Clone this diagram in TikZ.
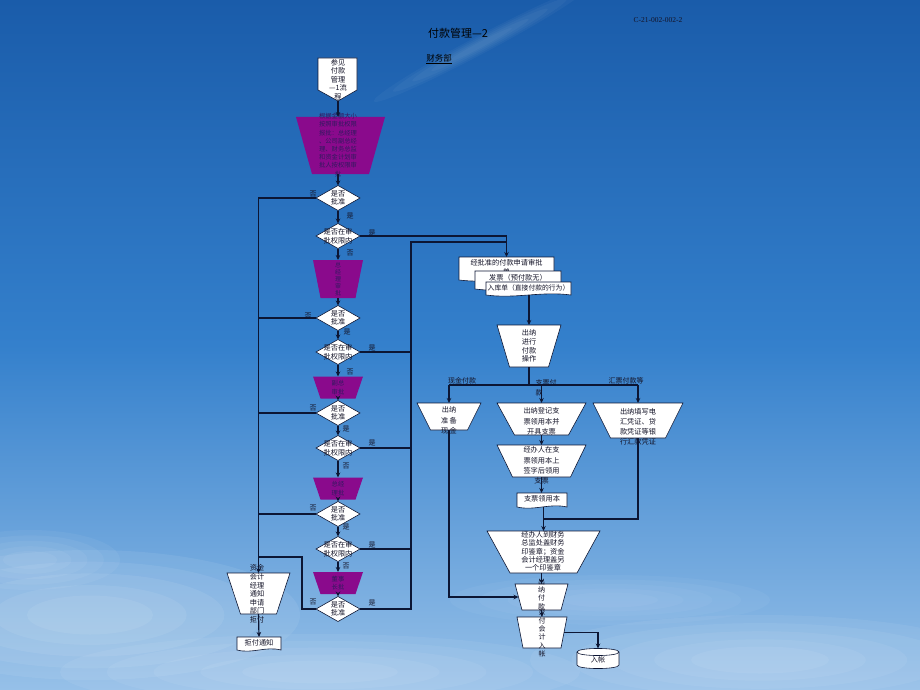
\documentclass[tikz,border=0pt]{standalone}
\usepackage{fontspec}
\setmainfont{Liberation Serif}
\newfontfamily\cjk{Noto Sans CJK SC}
\usetikzlibrary{shapes.geometric,arrows.meta,calc}
\definecolor{linec}{RGB}{12,22,52}
\definecolor{purp}{RGB}{138,10,140}
\definecolor{ptxt}{RGB}{50,25,95}
\definecolor{txtc}{RGB}{20,20,40}
\definecolor{bgtop}{RGB}{26,92,170}
\definecolor{bgmid}{RGB}{52,128,204}
\definecolor{bgbot}{RGB}{150,192,232}
\newcommand\docshape[1]{\draw[docline] (#1.north west) -- (#1.north east) -- (#1.south east) .. controls ($(#1.south east)!0.35!(#1.south west)+(0,-4)$) and ($(#1.south east)!0.65!(#1.south west)+(0,4)$) .. (#1.south west) -- cycle;}
% #1 style, #2 name, #3 x, #4 y, #5 top width, #6 bottom width, #7 height
\newcommand\trapnode[7]{%
\node[docbox, minimum width=#5pt, minimum height=#7pt] (#2) at (#3,#4) {};
\path[#1] (#2.north west) -- (#2.north east) -- ($(#2.south east)+({-(#5-#6)/2},0)$) -- ($(#2.south west)+({(#5-#6)/2},0)$) -- cycle;}
% soft cloud: #1 x, #2 y, #3 rx, #4 ry, #5 opacity
\newcommand\softcloud[5]{%
\foreach \rr in {1,0.82,0.64,0.46,0.3}{\fill[white, opacity=#5] (#1,#2) ellipse [x radius=\rr*#3 pt, y radius=\rr*#4 pt];}}
\begin{document}
\begin{tikzpicture}[x=1pt,y=-1pt,
 ln/.style={draw=linec, line width=1.2pt},
 arr/.style={ln, -{Stealth[length=5pt,width=4.5pt]}},
 dia/.style={diamond, draw=linec, line width=0.6pt, fill=white, minimum width=44pt, minimum height=25pt, inner sep=0pt, outer sep=0pt},
 wsh/.style={draw=linec, line width=0.6pt, fill=white},
 psh/.style={fill=purp},
 txt/.style={font=\cjk\fontsize{7.2}{8.6}\selectfont, align=center, inner sep=0pt, text=txtc},
 ptx/.style={txt, text=ptxt, font=\cjk\fontsize{6.3}{8.2}\selectfont},
 lab/.style={font=\cjk\fontsize{7}{8}\selectfont, inner sep=0pt, text=txtc},
 docbox/.style={rectangle, inner sep=0pt, outer sep=0pt},
 docline/.style={draw=linec, line width=0.6pt, fill=white}]
% background
\useasboundingbox (0,0) rectangle (920,690);
\shade[top color=bgtop, bottom color=bgbot, middle color=bgmid] (0,0) rectangle (920,690);
\begin{scope}[rotate around={28:(480,45)}]
\softcloud{480}{45}{120}{9}{0.035}
\end{scope}
\softcloud{90}{615}{210}{65}{0.07}
\softcloud{320}{672}{260}{38}{0.06}
\softcloud{760}{660}{230}{45}{0.06}
\softcloud{610}{600}{160}{25}{0.04}
\softcloud{30}{560}{90}{30}{0.05}

% titles
\node[font=\cjk\fontsize{11}{13}\selectfont, inner sep=0pt, text=black] (title) at (458,33) {付款管理—2};
\node[font=\cjk\fontsize{8.5}{10}\selectfont, inner sep=0pt, text=black] (dept) at (439,59) {\underline{财务部}};
\node[font=\fontsize{7.5}{9}\selectfont, inner sep=0pt, text=txtc] (code) at (658,20) {C-21-002-002-2};

% start node
\draw[docline] (318,58) -- (357,58) -- (357,90) -- (338,101) -- (318,90) -- cycle;
\coordinate (s0) at (338,101);
\node[txt] (st) at (338,79.5) {参见\\付款\\管理\\—1流\\程};

% left chain
\trapnode{psh}{p1}{340.5}{145.5}{89}{57}{57}
\node[ptx] (p1t) at (338,145) {根据金额大小\\按照审批权限\\报批：总经理\\、公司副总经\\理、财务总监\\和资金计划审\\批人按权限审\\批};
\node[dia] (d1) at (338,198) {};
\node[dia] (d2) at (338,236) {};
\trapnode{psh}{p2}{338}{279}{50}{35}{38}
\node[ptx, font=\cjk\fontsize{6}{7}\selectfont] (p2t) at (338,279) {总\\经\\理\\审\\批};
\node[dia] (d3) at (338,318) {};
\node[dia] (d4) at (338,352) {};
\trapnode{psh}{p3}{338}{387.5}{50}{35}{22}
\node[ptx] (p3t) at (338,387.5) {副总\\审批};
\node[dia] (d5) at (338,413) {};
\node[dia] (d6) at (338,448) {};
\trapnode{psh}{p4}{338}{488.5}{50}{35}{22}
\node[ptx] (p4t) at (338,488.5) {总经\\理批};
\node[dia] (d7) at (338,514) {};
\node[dia] (d8) at (338,549) {};
\trapnode{psh}{p5}{338}{583}{50}{35}{22}
\node[ptx] (p5t) at (338,583) {董事\\长批};
\node[dia] (d9) at (338,609) {};
\foreach \d in {d1,d3,d5,d7,d9}{\node[txt] (\d t) at (\d) {是否\\批准};}
\foreach \d in {d2,d4,d6,d8}{\node[txt] (\d t) at (\d) {是否在审\\批权限内};}

% reject
\trapnode{wsh}{j1}{258.5}{593.5}{63}{36}{41}
\node[txt] (j1t) at (257,594) {资金\\会计\\经理\\通知\\申请\\部门\\拒付};
\node[docbox, minimum width=44pt, minimum height=13pt] (rj) at (259,643.5) {};
\docshape{rj}
\node[txt] (rjt) at (259,643) {拒付通知};

% right side documents
\node[docbox, minimum width=95pt, minimum height=23pt] (doc1) at (506.5,268.5) {};
\docshape{doc1}
\node[txt] (doc1t) at (506.5,267.5) {经批准的付款申请审批\\单};
\node[docbox, minimum width=86pt, minimum height=18pt] (doc2) at (518,280) {};
\docshape{doc2}
\node[txt] (doc2t) at (518,277.5) {发票（预付款无）};
\node[docbox, minimum width=85pt, minimum height=13pt] (doc3) at (528.5,288.5) {};
\docshape{doc3}
\node[txt, font=\cjk\fontsize{6.8}{8}\selectfont] (doc3t) at (528.5,288) {入库单（直接付款的行为）};

\trapnode{wsh}{n1}{529}{346}{64}{39}{42}
\node[txt] (n1t) at (529,346) {出纳\\进行\\付款\\操作};

\trapnode{wsh}{c1}{449}{416.5}{64}{37}{27}
\node[txt, font=\cjk\fontsize{7.2}{10.5}\selectfont] (c1t) at (449,420.5) {出纳\\准\,备\\现\,金};
\trapnode{wsh}{m1}{541.5}{419}{89}{54}{32}
\node[txt, font=\cjk\fontsize{7.2}{10.5}\selectfont] (m1t) at (541.5,421.5) {出纳登记支\\票领用本并\\开具支票};
\trapnode{wsh}{r1}{638}{420.5}{90}{55}{35}
\node[txt, font=\cjk\fontsize{7.2}{10}\selectfont] (r1t) at (638,427) {出纳填写电\\汇凭证、贷\\款凭证等银\\行汇款凭证};
\trapnode{wsh}{m2}{541.5}{461}{89}{58}{32}
\node[txt, font=\cjk\fontsize{7.2}{10.3}\selectfont] (m2t) at (541.5,465.5) {经办人在支\\票领用本上\\签字后领用\\支票};
\node[docbox, minimum width=50pt, minimum height=14pt] (doc4) at (542,500) {};
\docshape{doc4}
\node[txt] (doc4t) at (542,498.5) {支票领用本};
\trapnode{wsh}{b1}{543.5}{552}{113}{67}{42}
\node[txt, font=\cjk\fontsize{7.2}{8.3}\selectfont] (b1t) at (543,551.5) {经办人到财务\\总监处盖财务\\印鉴章；资金\\会计经理盖另\\一个印鉴章};
\trapnode{wsh}{f1}{541.5}{597}{53}{39}{26}
\node[txt, font=\cjk\fontsize{7}{8.3}\selectfont] (f1t) at (541.5,594) {出\\纳\\付\\款};
\coordinate (f1w) at ($(f1.west)+(3.5,0)$);
\trapnode{wsh}{a1}{542}{632.5}{50}{38}{31}
\node[txt, font=\cjk\fontsize{7}{8.4}\selectfont] (a1t) at (542,633) {交\\付\\会\\计\\入\\帐};
\coordinate (a1e) at ($(a1.east)+(-3,0)$);

% cylinder
\draw[docline] (577,652) -- (577,665) .. controls (577,669.7) and (619,669.7) .. (619,665) -- (619,652) .. controls (619,647.3) and (577,647.3) .. (577,652) -- cycle;
\draw[draw=linec, line width=0.6pt] (577,652) .. controls (577,656.7) and (619,656.7) .. (619,652);
\coordinate (cyl) at (598,648.5);
\node[txt] (cylt) at (598,660) {入帐};

% connectors left chain
\draw[arr] (s0) -- (s0 |- p1.north);
\draw[arr] (d1.north |- p1.south) -- (d1.north);
\draw[arr] (d1.south) -- (d2.north);
\draw[arr] (d2.south) -- (p2.north);
\draw[arr] (p2.south) -- (d3.north);
\draw[arr] (d3.south) -- (d4.north);
\draw[arr] (d4.south) -- (p3.north);
\draw[arr] (p3.south) -- (d5.north);
\draw[arr] (d5.south) -- (d6.north);
\draw[arr] (d6.south) -- (p4.north);
\draw[arr] (p4.south) -- (d7.north);
\draw[arr] (d7.south) -- (d8.north);
\draw[arr] (d8.south) -- (p5.north);
\draw[arr] (p5.south) -- (d9.north);
% reject bus
\draw[arr] (d1.west) -| (j1.north);
\foreach \d in {d3,d5,d7}{\draw[ln] (\d.west) -- (\d.west -| j1.north);}
\coordinate (k9) at (302,557);
\draw[ln] (d9.west) -| (k9) -- (k9 -| j1.north);
\draw[arr] (j1.south) -- (rj.north);
% approve bus
\coordinate (bus) at (411,242);
\draw[arr] (d2.east) -| (doc1.north);
\draw[ln] (d9.east) -| (bus) -- (bus -| doc1.north);
\foreach \d in {d4,d6,d8}{\draw[ln] (\d.east) -- (\d.east -| bus);}

% right connectors
\draw[arr] (n1.north |- doc3.south) -- (n1.north);
\coordinate (bar) at (529,385);
\draw[ln] (n1.south) -- (bar);
\draw[ln] (c1.north |- bar) -- (r1.north |- bar);
\draw[arr] (c1.north |- bar) -- (c1.north);
\draw[arr] (m1.north |- bar) -- (m1.north);
\draw[arr] (r1.north |- bar) -- (r1.north);
\draw[arr] (m1.south) -- (m2.north);
\draw[arr] (m2.south) -- (m2.south |- doc4.north);
\coordinate (mg) at (543,519);
\draw[ln] (r1.south) |- (mg);
\draw[arr] (b1.north |- doc4.south) -- (b1.north);
\draw[arr] (f1.north |- b1.south) -- (f1.north);
\draw[arr] (c1.south) |- (f1w);
\draw[arr] (f1.south) -- (a1.north);
\draw[arr] (a1e) -| (cyl);

% branch labels
\node[lab] (lc) at (462,381) {现金付款};
\node[lab, align=left] (lz) at (546,387.5) {支票付\\[2pt]款};
\node[lab] (lh) at (626,381) {汇票付款等};

% yes/no labels
\node[lab] (n1l) at (313,194) {否};
\node[lab] (y1l) at (350,216) {是};
\node[lab] (y2l) at (372,233) {是};
\node[lab] (n2l) at (350,253) {否};
\node[lab] (n3l) at (308,316) {否};
\node[lab] (y3l) at (347,332) {是};
\node[lab] (y4l) at (372,348) {是};
\node[lab] (n4l) at (350,372) {否};
\node[lab] (n5l) at (313,408) {否};
\node[lab] (y5l) at (346,429) {是};
\node[lab] (y6l) at (372,443) {是};
\node[lab] (n6l) at (346,466) {否};
\node[lab] (n7l) at (313,508) {否};
\node[lab] (y7l) at (346,527) {是};
\node[lab] (y8l) at (372,545) {是};
\node[lab] (n8l) at (346,566) {否};
\node[lab] (n9l) at (313,602) {否};
\node[lab] (y9l) at (372,603) {是};
\end{tikzpicture}
\end{document}
